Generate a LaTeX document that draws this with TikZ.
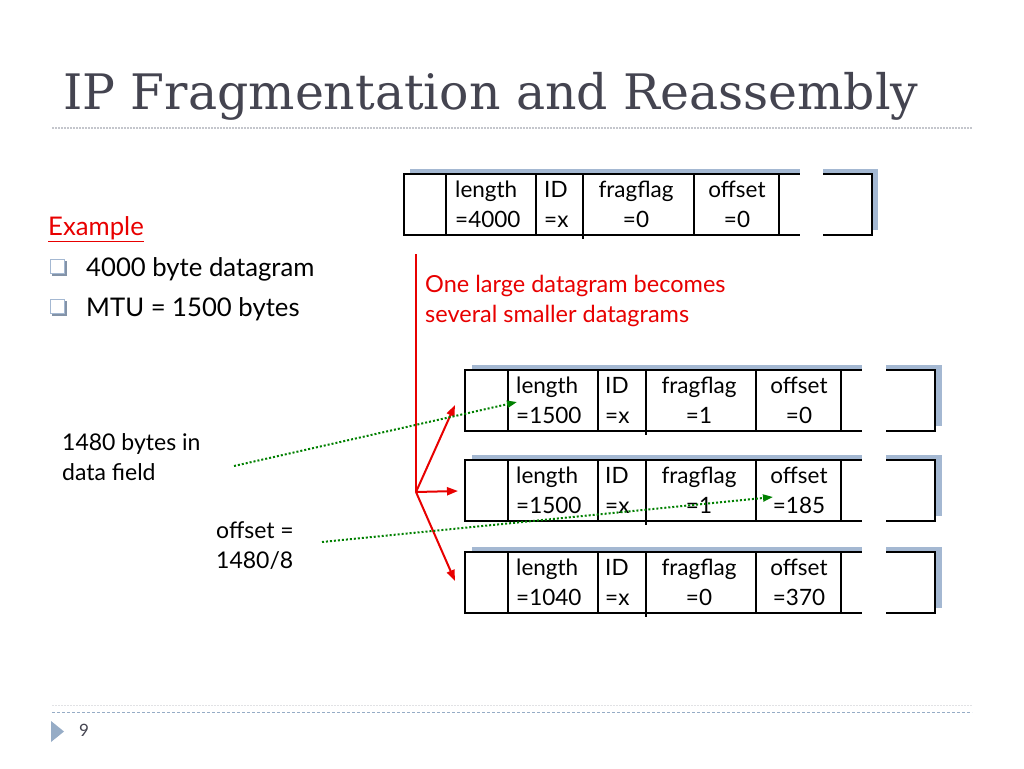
\documentclass[tikz,border=0pt]{standalone}
\usepackage{fontspec}
\setsansfont{Lato}
\newfontfamily\titlefont{DejaVu Serif}
\usetikzlibrary{arrows.meta}

\definecolor{titlegray}{RGB}{68,68,80}
\definecolor{shadowblue}{RGB}{164,184,210}
\definecolor{rulegray}{RGB}{196,198,204}
\definecolor{ruleblue}{RGB}{150,172,198}
\definecolor{slidered}{RGB}{232,0,0}
\definecolor{arrowgreen}{RGB}{0,128,0}

\tikzset{
  boxline/.style={line width=2.1pt},
  field/.style={anchor=base,align=center,inner sep=0pt,font=\sffamily\fontsize{22.5}{30}\selectfont},
  fieldl/.style={field,anchor=base west,align=left},
  bodytext/.style={anchor=base west,align=left,inner sep=0pt,font=\sffamily\fontsize{25.7}{31}\selectfont},
  redtext/.style={bodytext,text=slidered,font=\sffamily\fontsize{23.5}{30}\selectfont},
  sidetext/.style={bodytext,font=\sffamily\fontsize{23}{30}\selectfont},
  redarrow/.style={slidered,line width=2pt,-{Triangle[length=11pt,width=8pt]}},
  greenarrow/.style={arrowgreen,line width=2pt,dash pattern=on 2pt off 2pt,-{Triangle[length=10pt,width=7pt]}}
}

\begin{document}
\begin{tikzpicture}[x=1pt,y=-1pt]
\useasboundingbox (0,0) rectangle (1024,768);
\fill[white] (0,0) rectangle (1024,768);

% Title and rules
\node[anchor=base west,inner sep=0pt,text=titlegray,font=\titlefont\fontsize{48.9}{56}\selectfont] (title) at (63,109) {IP Fragmentation and Reassembly};
\draw[rulegray,line width=1.3pt,dash pattern=on 1.5pt off 1.5pt] (52,128) -- (972,128);
\draw[rulegray!50,line width=1pt,dash pattern=on 1.5pt off 1.5pt] (52,705) -- (972,705);
\draw[ruleblue,line width=1pt,dash pattern=on 3pt off 2pt] (52,712) -- (972,712);
\fill[ruleblue] (51,721) -- (64,731.5) -- (51,742) -- cycle;
\node[anchor=base west,inner sep=0pt,text=titlegray,font=\sffamily\fontsize{17}{20}\selectfont] (pageno) at (79,736) {9};

% Example list
\node[bodytext,text=slidered] (example) at (48,235) {\underline{Example}};
\fill[shadowblue!80!black] (52,261) rectangle (67,276);
\draw[shadowblue,fill=white,line width=1pt] (50,259) rectangle (64,273);
\node[bodytext] (item1) at (86,276) {4000 byte datagram};
\fill[shadowblue!80!black] (52,301) rectangle (67,316);
\draw[shadowblue,fill=white,line width=1pt] (50,299) rectangle (64,313);
\node[bodytext] (item2) at (86,316) {MTU = 1500 bytes};

% Datagram of 4000 bytes
\begin{scope}[shift={(404,174)}]
\fill[shadowblue] (6,-5) rectangle (474,56);
\draw[boxline,fill=white] (0,0) rectangle (468,61);
\draw[boxline] (42,0) -- (42,61);
\draw[boxline] (132,0) -- (132,61);
\draw[boxline] (179,0) -- (179,65);
\draw[boxline] (290,0) -- (290,61);
\draw[boxline] (375,0) -- (375,61);
\fill[white] (396,-7) rectangle (419,63);
\node[fieldl] (len0) at (51,53) {length\\=4000};
\node[fieldl] (id0) at (140,53) {ID\\=x};
\node[field] (flag0) at (232,53) {fragflag\\=0};
\node[field] (off0) at (333,53) {offset\\=0};
\end{scope}

% Red caption
\node[redtext] (caption) at (425,322) {One large datagram becomes\\several smaller datagrams};

% Fragment 1
\begin{scope}[shift={(465,370)}]
\fill[shadowblue] (7,-5) rectangle (477,56);
\draw[boxline,fill=white] (0,0) rectangle (470,61);
\draw[boxline] (43,0) -- (43,61);
\draw[boxline] (133,0) -- (133,61);
\draw[boxline] (181,0) -- (181,65);
\draw[boxline] (291,0) -- (291,61);
\draw[boxline] (376,0) -- (376,61);
\fill[white] (397,-7) rectangle (421,63);
\node[fieldl] (len1) at (51,53) {length\\=1500};
\node[fieldl] (id1) at (140,53) {ID\\=x};
\node[field] (flag1) at (234,53) {fragflag\\=1};
\node[field] (off1) at (334,53) {offset\\=0};
\end{scope}

% Fragment 2
\begin{scope}[shift={(465,460)}]
\fill[shadowblue] (7,-5) rectangle (477,56);
\draw[boxline,fill=white] (0,0) rectangle (470,61);
\draw[boxline] (43,0) -- (43,61);
\draw[boxline] (133,0) -- (133,61);
\draw[boxline] (181,0) -- (181,65);
\draw[boxline] (291,0) -- (291,61);
\draw[boxline] (376,0) -- (376,61);
\fill[white] (397,-7) rectangle (421,63);
\node[fieldl] (len2) at (51,53) {length\\=1500};
\node[fieldl] (id2) at (140,53) {ID\\=x};
\node[field] (flag2) at (234,53) {fragflag\\=1};
\node[field] (off2) at (334,53) {offset\\=185};
\end{scope}

% Fragment 3
\begin{scope}[shift={(465,552)}]
\fill[shadowblue] (7,-5) rectangle (477,56);
\draw[boxline,fill=white] (0,0) rectangle (470,61);
\draw[boxline] (43,0) -- (43,61);
\draw[boxline] (133,0) -- (133,61);
\draw[boxline] (181,0) -- (181,65);
\draw[boxline] (291,0) -- (291,61);
\draw[boxline] (376,0) -- (376,61);
\fill[white] (397,-7) rectangle (421,63);
\node[fieldl] (len3) at (51,53) {length\\=1040};
\node[fieldl] (id3) at (140,53) {ID\\=x};
\node[field] (flag3) at (234,53) {fragflag\\=0};
\node[field] (off3) at (334,53) {offset\\=370};
\end{scope}

% Side notes
\node[sidetext] (bytesnote) at (62,480) {1480 bytes in\\data field};
\node[sidetext] (offnote) at (216,568) {offset =\\1480/8};

% Red fork to the fragments
\coordinate (forktop) at (416,254);
\coordinate (fork) at (416,492);
\coordinate (to1) at (455,405);
\coordinate (to2) at (458,491);
\coordinate (to3) at (455,581);
\draw[slidered,line width=2pt] (forktop) -- (fork);
\draw[redarrow] (fork) -- (to1);
\draw[redarrow] (fork) -- (to2);
\draw[redarrow] (fork) -- (to3);

% Green pointers
\coordinate (g1s) at (234,466);
\coordinate (g1e) at (517,402);
\coordinate (g2s) at (322,542);
\coordinate (g2e) at (773,497);
\draw[greenarrow] (g1s) -- (g1e);
\draw[greenarrow] (g2s) -- (g2e);
\end{tikzpicture}
\end{document}
